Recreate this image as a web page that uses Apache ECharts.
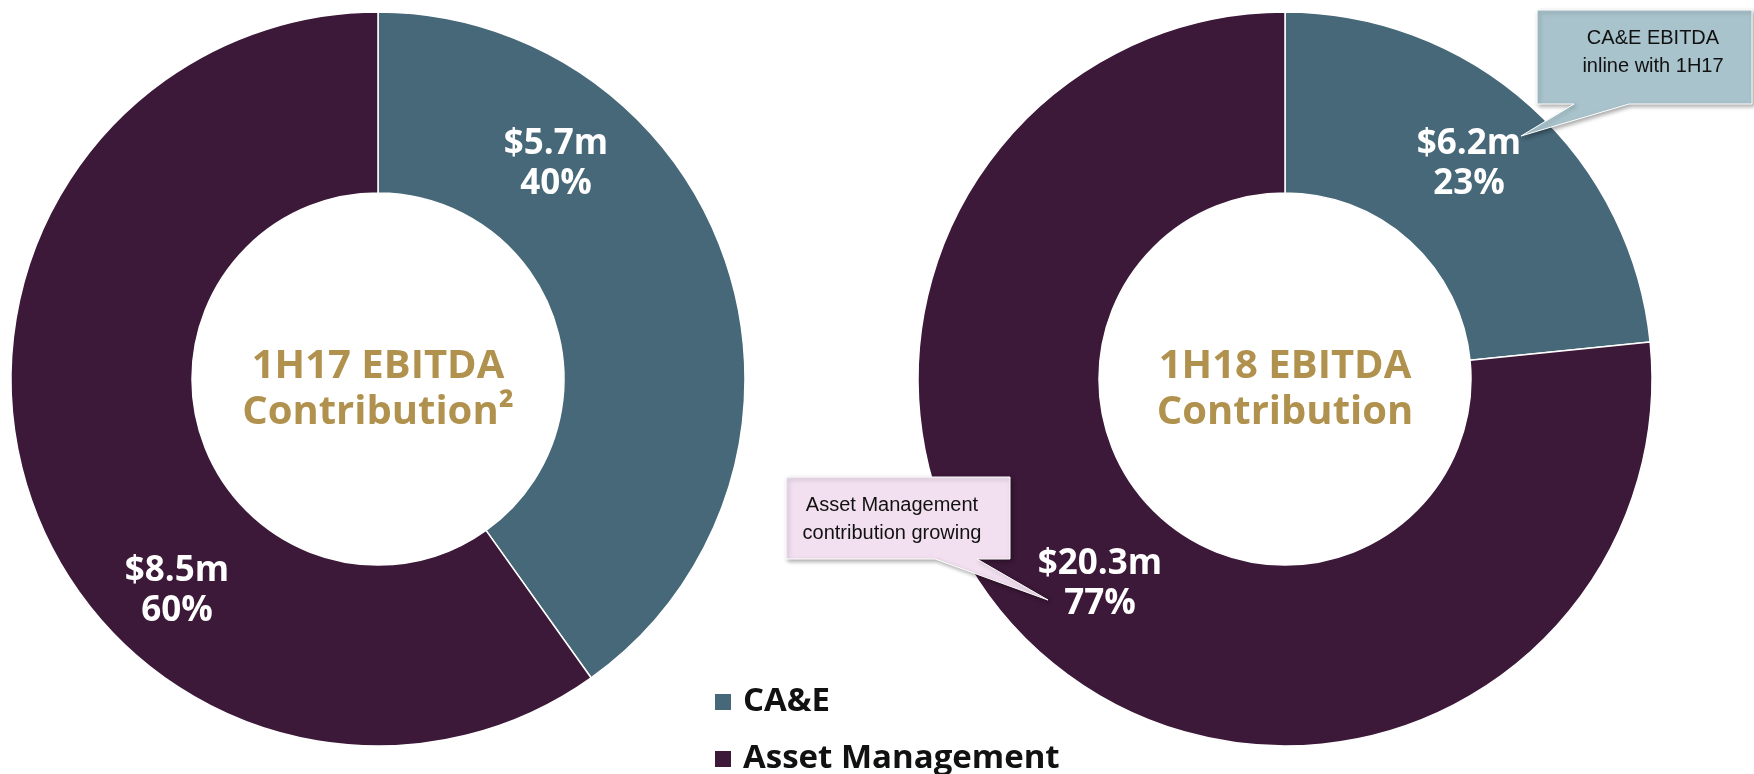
<!DOCTYPE html>
<html>
<head>
<meta charset="utf-8">
<script src="https://cdn.jsdelivr.net/npm/echarts@6/dist/echarts.min.js"></script>
<style>
  html, body { margin: 0; padding: 0; background: #fff; }
  #chart { width: 1754px; height: 774px; }
</style>
</head>
<body>
<div id="chart"></div>
<script>
// 数据
var segments = ['CA&E', 'Asset Management'];
var ebitda1H17 = [5.7, 8.5];
var ebitda1H18 = [6.2, 20.3];
var centerTitles = [['1H17 EBITDA', 'Contribution²'], ['1H18 EBITDA', 'Contribution']];
var calloutTexts = [['CA&E EBITDA', 'inline with 1H17'], ['Asset Management', 'contribution growing']];

var colors = ['#466878', '#3d1939'];
var gold = '#b0924e';
var boldFont = '"Open Sans", "Noto Sans", sans-serif';

// 标签位置 (每个环各自)
var labelPos = [
    [[556, 164], [177, 591]],
    [[1469, 164], [1100, 584]]
];

function toData(vals) {
    return segments.map(function (name, i) {
        return { name: name, value: vals[i] };
    });
}

function makePie(vals, center, idx) {
    return {
        type: 'pie',
        center: center,
        radius: [186, 367],
        startAngle: 90,
        clockwise: true,
        percentPrecision: 0,
        avoidLabelOverlap: false,
        emphasis: { disabled: true },
        itemStyle: { borderColor: '#fff', borderWidth: 1.5 },
        label: {
            show: true,
            position: 'inside',
            color: '#fff',
            fontFamily: boldFont,
            fontWeight: 'bold',
            fontSize: 35,
            lineHeight: 40,
            align: 'center',
            formatter: function (p) {
                return '$' + p.value.toFixed(1) + 'm\n' + p.percent + '%';
            }
        },
        labelLine: { show: false },
        labelLayout: function (p) {
            var pos = labelPos[idx][p.dataIndex];
            return { x: pos[0], y: pos[1], align: 'center', verticalAlign: 'middle' };
        },
        data: toData(vals)
    };
}

function makeLegend(name, top) {
    return {
        orient: 'vertical',
        left: 708,
        top: top,
        icon: 'rect',
        itemWidth: 18,
        itemHeight: 18,
        selectedMode: false,
        data: [name],
        textStyle: {
            fontFamily: boldFont,
            fontWeight: 'bold',
            fontSize: 33,
            lineHeight: 34,
            padding: [0, 0, 0, 6],
            color: '#111'
        }
    };
}

function centerText(lines, x) {
    return {
        type: 'text',
        x: x,
        y: 390,
        z: 100,
        style: {
            text: lines.join('\n'),
            fill: gold,
            font: 'bold 40px ' + boldFont,
            lineHeight: 46,
            align: 'center',
            verticalAlign: 'middle'
        }
    };
}

// 气泡框
function callout(points, fill, textX, textY, lines) {
    return [{
        type: 'polygon',
        z: 100,
        shape: { points: points },
        style: {
            fill: fill,
            stroke: '#ffffff',
            lineWidth: 1,
            shadowBlur: 4,
            shadowOffsetX: 2,
            shadowOffsetY: 2,
            shadowColor: 'rgba(0,0,0,0.35)'
        }
    }, {
        type: 'text',
        z: 101,
        x: textX,
        y: textY,
        style: {
            text: lines.join('\n'),
            fill: '#111',
            font: '20px "Liberation Sans", Arial, sans-serif',
            lineHeight: 28,
            align: 'center',
            verticalAlign: 'middle'
        }
    }];
}

var chart = echarts.init(document.getElementById('chart'));
chart.setOption({
    animation: false,
    color: colors,
    legend: [
        makeLegend(segments[0], 680),
        makeLegend(segments[1], 737)
    ],
    series: [
        makePie(ebitda1H17, [378, 379], 0),
        makePie(ebitda1H18, [1285, 379], 1)
    ],
    graphic: [
        centerText(centerTitles[0], 378),
        centerText(centerTitles[1], 1285)
    ].concat(
        callout([[1537, 10], [1752, 10], [1752, 104], [1629, 104], [1521, 136], [1574, 104], [1537, 104]],
            '#a9c3cc', 1653, 52, calloutTexts[0]),
        callout([[786, 477], [1010, 477], [1010, 559], [977, 559], [1048, 600], [935, 559], [786, 559]],
            '#f2e0f0', 892, 519, calloutTexts[1])
    )
});
</script>
</body>
</html>
